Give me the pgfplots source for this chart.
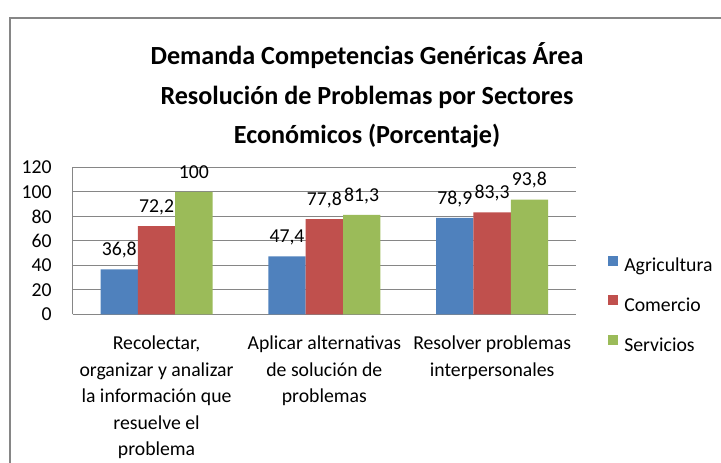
\documentclass[border=0pt]{standalone}
\usepackage{pgfplots}
\pgfplotsset{compat=1.18}
\usepackage{fontspec}
\setmainfont{Carlito}
\definecolor{cA}{RGB}{79,129,189}
\definecolor{cB}{RGB}{192,80,77}
\definecolor{cC}{RGB}{155,187,89}
\definecolor{gridg}{RGB}{134,134,134}
\pgfplotsset{mylegend/.style={legend image code/.code={\path[##1, draw=none] (0pt,0.9pt) rectangle (7.5pt,8.4pt);}}}
\begin{document}
\begin{tikzpicture}
\useasboundingbox (0pt,0pt) rectangle (540.75pt,347.25pt);
\draw[gridg, line width=0.9pt] (7.5pt,0pt) -- (7.5pt,333.75pt) -- (540.75pt,333.75pt);
\node[font=\fontsize{19.6}{24}\selectfont\bfseries, anchor=base] at (275.25pt,298.5pt) {Demanda Competencias Genéricas Área};
\node[font=\fontsize{19.6}{24}\selectfont\bfseries, anchor=base] at (275.25pt,268.9pt) {Resolución de Problemas por Sectores};
\node[font=\fontsize{19.6}{24}\selectfont\bfseries, anchor=base] at (275.25pt,239.25pt) {Económicos (Porcentaje)};
\begin{axis}[
  at={(54.5pt,111.4pt)}, anchor=south west, scale only axis,
  width=377.5pt, height=110.25pt,
  ybar=0pt, bar width=28pt,
  ymin=0, ymax=120, ytick={0,20,...,120},
  xmin=-0.5, xmax=2.5, xtick={0,1,2},
  xticklabels={{Recolectar,\\organizar y analizar\\la información que\\resuelve el\\problema},{Aplicar alternativas\\de solución de\\problemas},{Resolver problemas\\interpersonales}},
  ymajorgrids, grid style={gridg, line width=0.75pt},
  axis x line*=bottom, axis y line*=left,
  axis line style={gridg, line width=0.75pt, -},
  major tick length=0pt, tick style={draw=none},
  /pgf/number format/assume math mode=true,
  /pgf/number format/use comma, /pgf/number format/fixed, /pgf/number format/precision=1,
  yticklabel style={font=\fontsize{14.8}{18}\selectfont, anchor=east, inner sep=0pt, xshift=-15.5pt},
  xticklabel style={font=\fontsize{14.8}{19.9}\selectfont, align=center, anchor=north, inner sep=0pt, yshift=-15.8pt},
  nodes near coords,
  every node near coord/.append style={font=\fontsize{14.8}{18}\selectfont, anchor=base, inner sep=0pt, yshift=10.3pt, text=black},
  legend style={at={(axis description cs:1.0636,0.061)}, anchor=west, draw=none, fill=none, inner sep=0pt,
    font=\fontsize{14.8}{18}\selectfont, row sep=14.6pt,
    nodes={inner sep=0pt, text height=10.5pt, text depth=3pt},
    /tikz/every odd column/.append style={column sep=4.5pt}},
  legend cell align=left,
]
\addplot[fill=cA, draw=none, mylegend] coordinates {(0,36.8) (1,47.4) (2,78.9)};
\addplot[fill=cB, draw=none, mylegend] coordinates {(0,72.2) (1,77.8) (2,83.3)};
\addplot[fill=cC, draw=none, mylegend] coordinates {(0,100) (1,81.3) (2,93.8)};
\legend{Agricultura,Comercio,Servicios}
\end{axis}
\end{tikzpicture}
\end{document}
